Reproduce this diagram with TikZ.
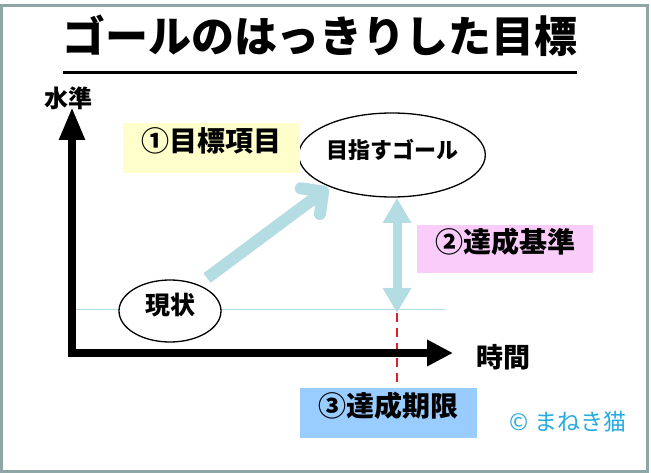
\documentclass[tikz,border=0pt]{standalone}
\usepackage{fontspec}
\newfontfamily\jp{Noto Sans CJK JP}
\newfontfamily\jpk{Noto Sans CJK JP Black}
\usetikzlibrary{arrows.meta,calc,shapes.geometric}
\definecolor{frameC}{RGB}{142,166,166}
\definecolor{arrC}{RGB}{180,221,227}
\definecolor{yelC}{RGB}{255,255,204}
\definecolor{pinkC}{RGB}{250,204,250}
\definecolor{blueC}{RGB}{153,204,255}
\definecolor{redC}{RGB}{228,30,40}
\definecolor{copyC}{RGB}{40,170,225}
\newcommand{\fsz}[1]{\fontsize{#1pt}{#1pt}\selectfont}
\begin{document}
\begin{tikzpicture}[x=1pt,y=-1pt,
  jpt/.style={font=\jpk, text height=0.8em, text depth=0.07em, inner sep=0pt},
  ell/.style={ellipse, draw=black, line width=1.3pt, fill=white, inner sep=0pt, jpt},
  lbl/.style={jpt, minimum width=177pt, minimum height=50pt},
  axis/.style={line width=8pt, line join=miter, black,
    {Triangle[length=33pt,width=24pt]}-{Triangle[length=26pt,width=25pt]}},
  dbl/.style={arrC, line width=9pt,
    {Triangle[length=25pt,width=27pt]}-{Triangle[length=25pt,width=27pt]}},
  diag/.style={arrC, line width=12pt, -{Straight Barb[length=16pt,width=32pt,round]}},
  reddash/.style={redC, line width=2.8pt, dash pattern=on 9pt off 6pt},
  thin/.style={arrC, line width=1pt}]
\useasboundingbox (0,0) rectangle (651,473);
% frame
\draw[frameC, line width=3pt] (1.5,6) rectangle (647,471);
% title
\node[jpt, font=\jpk\fsz{43}] (title) at (320,48.5) {ゴールのはっきりした目標};
\coordinate (ul1) at (63,73);
\coordinate (ul2) at (577,73);
\draw[line width=3pt] (ul1) -- (ul2);
% thin level line
\coordinate (hl1) at (76,310);
\coordinate (hl2) at (445,310);
\draw[thin] (hl1) -- (hl2);
% ellipses
\node[ell, minimum width=174pt, minimum height=84pt, font=\jpk\fsz{22}] (goal) at (392,155) {目指すゴール};
\node[ell, minimum width=102pt, minimum height=62pt, font=\jpk\fsz{25}] (now) at (170,311) {現状};
% diagonal arrow
\draw[diag] ($(now.center)+(37,-33)$) -- ($(goal.center)+(-64,33)$);
% level arrow and deadline
\coordinate (gtop) at (397,198);
\coordinate (lvl) at (397,313);
\coordinate (dl) at (397,386);
\draw[dbl] (gtop) -- (lvl);
\draw[reddash] (lvl) -- (dl);
% axes
\coordinate (ytip) at (72,107);
\coordinate (corner) at (72,353);
\coordinate (xtip) at (453,353);
\draw[axis] (ytip) -- (corner) -- (xtip);
\node[jpt, font=\jpk\fsz{24}] (ylab) at (68,104) {水準};
\node[jpt, font=\jpk\fsz{27}] (xlab) at (503,364) {時間};
% label boxes
\node[lbl, fill=yelC, font=\jpk\fsz{28}] (l1) at (211.5,148) {①目標項目};
\node[lbl, fill=pinkC, minimum width=176pt, minimum height=48pt, font=\jpk\fsz{28}] (l2) at (505,249) {②達成基準};
\node[lbl, fill=blueC, font=\jpk\fsz{28}] (l3) at (388.5,413) {③達成期限};
% copyright
\node[inner sep=0pt, text height=0.8em, text depth=0.07em, font=\jp\fsz{23}, text=copyC] (copy) at (568,427) {© まねき猫};
\end{tikzpicture}
\end{document}
